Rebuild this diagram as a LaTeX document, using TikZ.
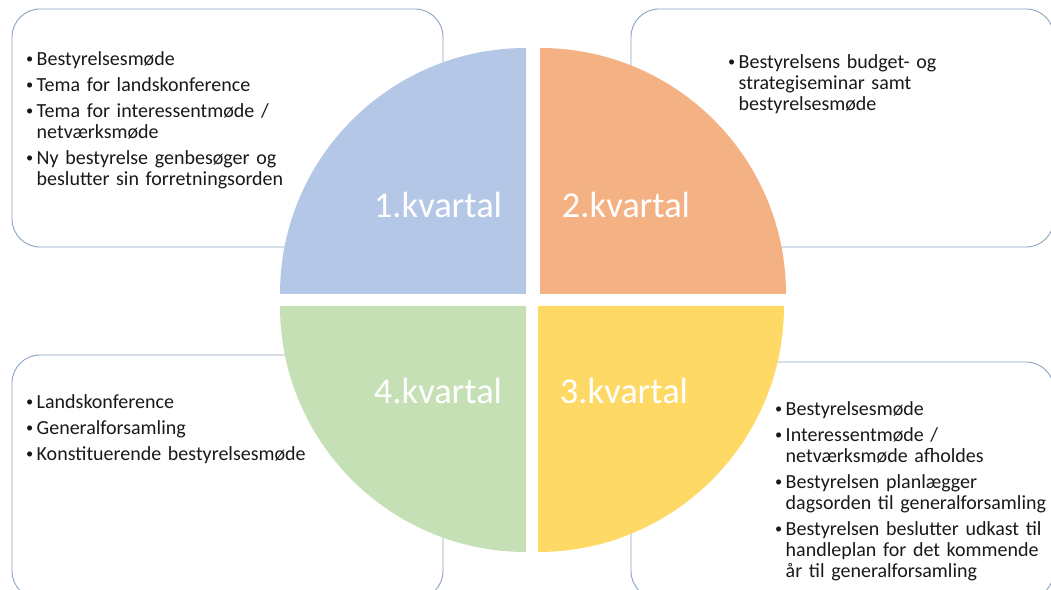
\documentclass[tikz,border=0pt]{standalone}
\usepackage{fontspec}
\setmainfont{Carlito}
\usepackage{graphicx}
\usepackage{tikz}

\definecolor{kvblaa}{HTML}{B4C7E7}
\definecolor{kvorange}{HTML}{F4B183}
\definecolor{kvgroen}{HTML}{C5E0B4}
\definecolor{kvgul}{HTML}{FFD966}
\definecolor{kant}{RGB}{140,162,192}
\definecolor{tekstfarve}{RGB}{25,25,25}

\newcommand{\punkt}[1]{\hangindent=11pt\hangafter=1\noindent\makebox[11pt][l]{\hspace{0.5pt}\raisebox{1.3pt}{\scalebox{0.72}{\textbullet}}}#1\par}

\begin{document}
\begin{tikzpicture}[x=1pt,y=1pt,
    boks/.style={draw=kant, line width=0.9pt, fill=white, rounded corners=28pt},
    punkter/.style={anchor=north west, text width=330pt, align=left, inner sep=0pt,
        font=\fontsize{20}{21}\selectfont, text=tekstfarve,
        execute at begin node={\setlength{\parskip}{5pt}}},
    kvartal/.style={text=white, inner sep=0pt, font=\fontsize{36.5}{40}\selectfont}]
                \useasboundingbox (0,0) rectangle (1051,589);
                \draw[boks] (12,580) rectangle (443,342);
                \draw[boks] (631,580) rectangle (1054,342);
                \draw[boks] (12,234) rectangle (443,-10);
                \draw[boks] (631,227) rectangle (1054,-10);
                \fill[kvblaa] (526,295) -- ++(180:246) arc (180:90:246) -- cycle;
                \fill[kvorange] (540,295) -- ++(90:246) arc (90:0:246) -- cycle;
                \fill[kvgroen] (526,283) -- ++(270:246) arc (270:180:246) -- cycle;
                \fill[kvgul] (538,283) -- ++(0:246) arc (0:-90:246) -- cycle;
                \node[kvartal] (kv1) at (438,384) {1.kvartal};
                \node[kvartal] (kv2) at (626,384) {2.kvartal};
                \node[kvartal] (kv3) at (624,198) {3.kvartal};
                \node[kvartal] (kv4) at (438,198) {4.kvartal};
                \node[punkter] (tekst1) at (25.5,538) {
                    \punkt{Bestyrelsesmøde}
                    \punkt{Tema for landskonference}
                    \punkt{Tema for interessentmøde /\newline netværksmøde}
                    \punkt{Ny bestyrelse genbesøger og\newline beslutter sin forretningsorden}
                };
                \node[punkter] (tekst2) at (727.5,535) {
                    \punkt{Bestyrelsens budget- og\newline strategiseminar samt\newline bestyrelsesmøde}
                };
                \node[punkter] (tekst3) at (774.5,188) {
                    \punkt{Bestyrelsesmøde}
                    \punkt{Interessentmøde /\newline netværksmøde afholdes}
                    \punkt{Bestyrelsen planlægger\newline dagsorden til generalforsamling}
                    \punkt{Bestyrelsen beslutter udkast til\newline handleplan for det kommende\newline år til generalforsamling}
                };
                \node[punkter] (tekst4) at (25.5,195) {
                    \punkt{Landskonference}
                    \punkt{Generalforsamling}
                    \punkt{Konstituerende bestyrelsesmøde}
                };
            \end{tikzpicture}
\end{document}
